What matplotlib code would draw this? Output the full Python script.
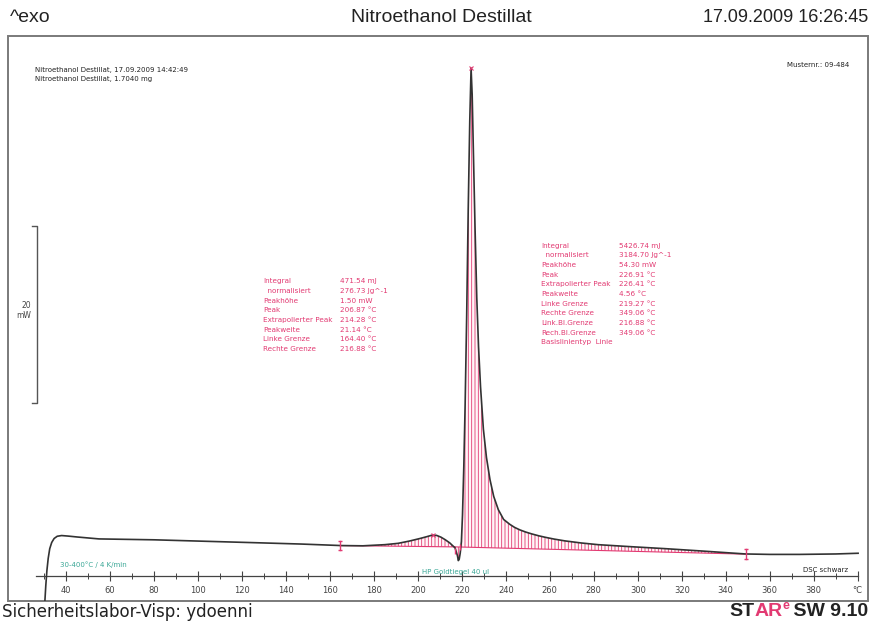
import matplotlib
matplotlib.use("Agg")
import matplotlib.pyplot as plt
import numpy as np
from matplotlib.patches import Rectangle
from matplotlib.text import Annotation

W, H = 873, 623

# DSC curve, temperature (°C) and heat flow (mW)
temps = [30.4, 30.8, 31.3, 31.9, 32.6, 33.5, 34.6, 36.0, 38.0, 41.0, 45.0, 55.0,
         80.0, 101.0, 125.0, 147.0, 165.0, 175.0, 185.0, 191.0, 196.0, 201.0, 204.0,
         206.4, 208.5, 210.5, 212.5, 214.5, 216.0, 216.88, 217.2, 218.0, 218.4, 218.8,
         219.27, 219.8, 220.3, 220.9, 221.5, 222.2, 222.9, 223.6, 224.2, 224.7, 225.3,
         226.0, 226.8, 227.6, 228.5, 229.8, 231.2, 232.8, 234.5, 236.6, 239.0, 241.8,
         244.0, 246.4, 249.0, 251.6, 255.0, 258.0, 262.0, 266.8, 274.0, 282.0, 297.0,
         312.5, 330.0, 343.0, 349.06, 360.0, 373.5, 390.0, 400.2]
heatflow = [-6.2, -4.5, -2.8, -1.4, -0.3, 0.4, 0.85, 1.1, 1.18, 1.12, 1.02, 0.8,
            0.7, 0.55, 0.38, 0.22, 0.05, 0.02, 0.15, 0.3, 0.55, 0.85, 1.05,
            1.22, 1.2, 1.0, 0.7, 0.35, 0.0, -0.2, -0.45, -1.1, -1.65, -1.5,
            -0.8, 0.5, 3.5, 9.0, 16.0, 26.0, 38.0, 48.0, 54.0, 51.0, 44.0,
            36.0, 28.0, 22.5, 18.0, 13.2, 10.0, 7.5, 5.6, 4.1, 3.0, 2.45,
            2.1, 1.82, 1.58, 1.38, 1.15, 0.98, 0.78, 0.58, 0.35, 0.15, -0.08,
            -0.3, -0.58, -0.8, -0.9, -0.95, -0.95, -0.9, -0.82]

# integration limits and baseline ends (°C, mW)
peak1_limits = [164.40, 216.88]
peak1_base = [0.05, -0.1]
peak2_limits = [216.88, 349.06]
peak2_base = [-0.1, -0.92]
peak_marks_t = [206.87, 224.2]
peak_marks_y = [1.22, 54.0]

xticks_major = list(range(40, 401, 20))
xtick_labels = [str(t) for t in range(40, 400, 20)] + ["°C"]
xticks_minor = list(range(30, 400, 20))

peak1_rows = [("Integral", "471.54 mJ"),
              ("  normalisiert", "276.73 Jg^-1"),
              ("Peakhöhe", "1.50 mW"),
              ("Peak", "206.87 °C"),
              ("Extrapolierter Peak", "214.28 °C"),
              ("Peakweite", "21.14 °C"),
              ("Linke Grenze", "164.40 °C"),
              ("Rechte Grenze", "216.88 °C")]
peak2_rows = [("Integral", "5426.74 mJ"),
              ("  normalisiert", "3184.70 Jg^-1"),
              ("Peakhöhe", "54.30 mW"),
              ("Peak", "226.91 °C"),
              ("Extrapolierter Peak", "226.41 °C"),
              ("Peakweite", "4.56 °C"),
              ("Linke Grenze", "219.27 °C"),
              ("Rechte Grenze", "349.06 °C"),
              ("Link.Bl.Grenze", "216.88 °C"),
              ("Rech.Bl.Grenze", "349.06 °C"),
              ("Basislinientyp  Linie", "")]

PINK = "#e23a72"
TEAL = "#3aa796"
CURVE = "#333333"
SMALL = ["DejaVu Sans"]


def fx(px):
    return px / W


def fy(py):
    return 1 - py / H


fig = plt.figure(figsize=(W / 100, H / 100), dpi=100)
fig.patch.set_facecolor("white")

# frame of the plot area
ax = fig.add_axes([fx(8), fy(601), fx(860), 565 / H])
ax.set_xlim(13.62, 404.7)
ax.set_ylim(-6.215, 57.63)
ax.patch.set_alpha(0)
fig.add_artist(Rectangle((fx(8), fy(601)), fx(860), 565 / H, transform=fig.transFigure,
                         fill=False, ec="#7a7a7a", lw=1.4, zorder=0))

for side in ["top", "left", "right"]:
    ax.spines[side].set_visible(False)
ax.spines["bottom"].set_position(("data", -3.39))
ax.spines["bottom"].set_bounds(26.4, 400.2)
ax.spines["bottom"].set_color("#444444")
ax.spines["bottom"].set_linewidth(0.9)
ax.set_yticks([])
ax.set_xticks(xticks_major)
ax.set_xticklabels(xtick_labels)
ax.set_xticks(xticks_minor, minor=True)
ax.tick_params(axis="x", which="major", direction="inout", length=7, width=0.8,
               color="#444444", labelsize=6, labelcolor="#444444", pad=4)
ax.tick_params(axis="x", which="minor", direction="inout", length=4, width=0.7,
               color="#444444")

t = np.array(temps)
hf = np.array(heatflow)

# hatched peak areas between curve and baseline
plt.rcParams["hatch.linewidth"] = 0.6
for lim, base in [(peak1_limits, peak1_base), (peak2_limits, peak2_base)]:
    sel = (t >= lim[0]) & (t <= lim[1])
    seg_t = t[sel]
    seg_base = np.interp(seg_t, lim, base)
    ax.fill_between(seg_t, hf[sel], seg_base, facecolor="#fff6f8", edgecolor=PINK,
                    hatch="|||||", linewidth=0, zorder=1)
    ax.plot(lim, base, color=PINK, lw=0.8, zorder=2)

ax.plot(t, hf, color=CURVE, lw=1.2, zorder=3)

# limit markers
for lt, ly in [(peak1_limits[0], peak1_base[0]), (peak2_limits[1], peak2_base[1])]:
    ax.plot([lt, lt], [ly - 0.55, ly + 0.55], color=PINK, lw=1.0, zorder=4)
    ax.plot([lt, lt], [ly - 0.55, ly + 0.55], ls="none", marker="_", ms=3,
            mew=1.0, color=PINK, zorder=4)
ax.plot([216.88, 219.27], [-0.6, -0.1], ls="none", marker="|", ms=4, mew=1.0,
        color=PINK, zorder=4)
ax.plot(peak_marks_t, peak_marks_y, ls="none", marker="x", ms=3, mew=0.8,
        color=PINK, zorder=4)

# 20 mW scale bar
bar_bottom, bar_height = 16.2, 20
ax.plot([24.7, 26.7, 26.7, 24.7],
        [bar_bottom + bar_height, bar_bottom + bar_height, bar_bottom, bar_bottom],
        color="#555555", lw=1.0, clip_on=False)
fig.text(fx(31), fy(305), "20", ha="right", va="center", fontsize=5.5, color="#444444",
         family=SMALL)
fig.text(fx(31), fy(316), "mW", ha="right", va="center", fontsize=5.5, color="#444444",
         family=SMALL)

# result tables
for i, (lab, val) in enumerate(peak1_rows):
    y = fy(281.5 + i * 9.6)
    fig.text(fx(263), y, lab, fontsize=5.2, color=PINK, va="center", family=SMALL)
    fig.text(fx(340), y, val, fontsize=5.2, color=PINK, va="center", family=SMALL)
for i, (lab, val) in enumerate(peak2_rows):
    y = fy(245.7 + i * 9.66)
    fig.text(fx(541), y, lab, fontsize=5.2, color=PINK, va="center", family=SMALL)
    fig.text(fx(619), y, val, fontsize=5.2, color=PINK, va="center", family=SMALL)

# sample info
fig.text(fx(35), fy(70), "Nitroethanol Destillat, 17.09.2009 14:42:49", fontsize=5,
         color="#222222", va="center", family=SMALL)
fig.text(fx(35), fy(78.5), "Nitroethanol Destillat, 1.7040 mg", fontsize=5,
         color="#222222", va="center", family=SMALL)
fig.text(fx(849), fy(65), "Musternr.: 09-484", fontsize=5, color="#222222",
         ha="right", va="center", family=SMALL)
fig.text(fx(60), fy(565), "30-400°C / 4 K/min", fontsize=5, color=TEAL,
         va="center", family=SMALL)
fig.text(fx(456), fy(572), "HP Goldtiegel 40 ul", fontsize=5, color=TEAL,
         ha="center", va="center", family=SMALL)
fig.text(fx(848), fy(570), "DSC schwarz", fontsize=5, color="#222222",
         ha="right", va="center", family=SMALL)

# header line
HEAD = ["Liberation Sans Narrow", "Liberation Sans", "DejaVu Sans"]
fig.text(fx(10), fy(18), "^exo", fontsize=14, color="#222222", va="center", family=HEAD)
fig.text(fx(441), fy(18), "Nitroethanol Destillat", fontsize=14, color="#222222",
         ha="center", va="center", family=HEAD)
fig.text(fx(868), fy(18), "17.09.2009 16:26:45", fontsize=13, color="#222222",
         ha="right", va="center", family=HEAD)

# footer
fig.text(fx(2), fy(612), "Sicherheitslabor-Visp: ydoenni", fontsize=12,
         color="#222222", va="center", family=["DejaVu Sans"])
BOLD = dict(fontsize=14, fontweight="bold", family=["Liberation Sans", "DejaVu Sans"])
sw = fig.text(fx(868), fy(616), " SW 9.10", ha="right", va="baseline", color="#222222",
              **BOLD)
e_txt = fig.add_artist(Annotation(
    "e", xy=(0.02, 0.45), xycoords=sw, ha="right", va="bottom", color=PINK, fontsize=9,
    fontweight="bold", family=["Liberation Sans", "DejaVu Sans"]))
ar = fig.add_artist(Annotation(
    "AR", xy=(0, 0), xycoords=(e_txt, sw), ha="right", va="bottom", color=PINK, **BOLD))
fig.add_artist(Annotation(
    "ST", xy=(0, 0), xycoords=(ar, sw), ha="right", va="bottom", color="#222222", **BOLD))

fig.savefig("out.png", dpi=100)
